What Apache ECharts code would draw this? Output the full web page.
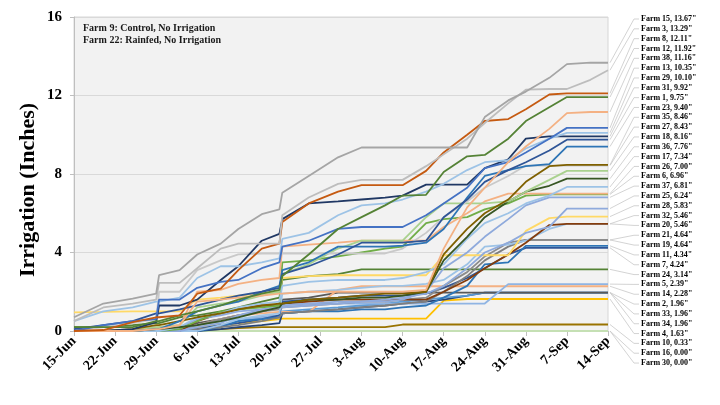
<!DOCTYPE html>
<html><head><meta charset="utf-8">
<script src="https://cdn.jsdelivr.net/npm/echarts@6/dist/echarts.min.js"></script>
<style>html,body{margin:0;padding:0;background:#fff}#c{width:720px;height:405px}</style>
</head><body><div id="c"></div>
<script>
// days after 15-Jun
const days = [0,5,10,14,14.5,18,21,25,28,32,35,35.5,40,45,49,53,56,60,63,67,70,74,77,81,84,88,91];
const tickLabels = ['15-Jun','22-Jun','29-Jun','6-Jul','13-Jul','20-Jul','27-Jul','3-Aug','10-Aug','17-Aug','24-Aug','31-Aug','7-Sep','14-Sep'];
const yTicks = [0,4,8,12,16];

const farmNames = ['Farm 15','Farm 3','Farm 8','Farm 12','Farm 38','Farm 13','Farm 29','Farm 31','Farm 1','Farm 23','Farm 35','Farm 27','Farm 18','Farm 36','Farm 17','Farm 26','Farm 6','Farm 37','Farm 25','Farm 28','Farm 32','Farm 20','Farm 21','Farm 19','Farm 11','Farm 7','Farm 24','Farm 5','Farm 14','Farm 2','Farm 33','Farm 34','Farm 4','Farm 10','Farm 16','Farm 30'];
const totals = [13.67,13.29,12.11,11.92,11.16,10.35,10.10,9.92,9.75,9.40,8.46,8.43,8.16,7.76,7.34,7.00,6.96,6.81,6.24,5.83,5.46,5.46,4.64,4.64,4.34,4.24,3.14,2.39,2.28,1.96,1.96,1.96,1.63,0.33,0.00,0.00];
const notes = ['Farm 9: Control, No Irrigation','Farm 22: Rainfed, No Irrigation'];

const farm15 = [0.7,1.4,1.65,1.9,2.85,3.1,3.9,4.45,5.2,5.95,6.2,7.05,7.9,8.85,9.35,9.35,9.35,9.35,9.35,9.35,10.9,11.75,12.2,12.9,13.6,13.67,13.67];
const farm3  = [0.5,1.2,1.4,1.6,2.45,2.45,3.2,4.2,4.45,4.45,4.45,5.9,6.8,7.5,7.7,7.7,7.7,8.4,9.0,9.8,10.6,11.6,12.3,12.33,12.33,12.8,13.29];
const farm8  = [0,0.05,0.45,0.7,0.7,0.8,1.9,2.16,3.1,4.2,4.45,5.55,6.5,7.1,7.43,7.43,7.43,8.16,9.1,10.0,10.7,10.8,11.3,12.05,12.11,12.11,12.11];
const farm12 = [0.2,0.2,0.2,0.5,0.5,0.8,1.0,1.3,1.6,1.9,2.1,2.8,3.9,5.2,5.8,6.4,6.9,6.94,8.1,8.9,8.97,9.8,10.7,11.4,11.92,11.92,11.92];
const farm38 = [0,0,0,0.1,0.1,0.3,1.5,1.6,1.7,1.8,1.9,1.9,2.0,2.0,2.0,2.0,2.0,2.1,4.2,6.3,7.3,8.6,9.4,10.3,11.1,11.16,11.16];
const farm13 = [0,0.3,0.5,0.6,1.6,1.6,2.2,2.5,2.6,3.2,3.5,4.3,4.6,5.2,5.3,5.3,5.3,5.9,6.5,7.3,8.3,8.6,9.1,9.8,10.35,10.35,10.35];
const farm29 = [0.5,1.0,1.2,1.5,1.5,1.7,2.7,3.3,3.3,3.5,3.7,4.7,5.0,5.9,6.4,6.5,6.7,7.1,7.5,8.2,8.6,8.7,9.3,9.8,10.1,10.1,10.1];
const farm31 = [0,0,0.1,0.45,1.3,1.3,1.6,2.6,3.3,4.6,4.95,5.7,6.5,6.6,6.7,6.8,6.9,7.46,7.46,7.46,8.3,8.75,9.8,9.92,9.92,9.92,9.92];
const farm1  = [0.1,0.3,0.5,0.9,0.9,1.1,1.3,1.6,1.8,2.0,2.2,2.9,3.3,3.9,4.5,4.5,4.5,4.6,5.8,6.7,7.6,8.2,8.6,9.2,9.75,9.75,9.75];
const farm23 = [0,0,0,0.1,0.1,0.5,1.0,1.3,1.5,2.0,2.3,3.1,3.5,4.3,4.3,4.3,4.35,4.5,5.2,6.8,7.9,8.2,8.4,8.5,9.4,9.4,9.4];
const farm35 = [0,0,0.1,0.3,0.3,0.5,0.7,0.9,1.1,1.3,1.4,1.4,1.6,1.7,1.8,1.9,1.9,2.0,3.9,5.2,6.0,6.7,7.6,8.4,8.46,8.46,8.46];
const farm27 = [0,0.2,0.4,0.6,2.0,2.0,3.1,3.6,3.9,3.95,3.95,3.95,3.95,3.95,3.95,3.95,4.2,5.0,5.8,6.6,7.3,7.9,8.43,8.43,8.43,8.43,8.43];
const farm18 = [0,0,0,0.2,0.2,0.3,1.2,1.4,1.5,1.8,2.0,2.9,3.4,4.2,4.6,4.6,4.6,5.8,6.5,6.5,6.5,6.6,7.1,7.7,8.16,8.16,8.16];
const farm36 = [0,0,0,0.1,0.1,0.2,0.3,0.5,0.7,1.0,1.2,1.4,1.6,1.6,1.7,1.7,1.8,2.0,3.6,4.8,5.8,6.6,7.1,7.4,7.76,7.76,7.76];
const farm17 = [0,0,0,0,0,0.2,0.7,0.9,1.2,1.4,1.5,2.3,2.5,2.6,2.6,2.6,2.7,3.0,3.4,4.7,5.5,6.0,6.5,6.9,7.34,7.34,7.34];
const farm26 = [0,0,0,0.2,0.2,0.3,2.0,2.1,2.4,2.6,2.7,4.3,4.4,4.5,4.6,4.6,4.6,4.6,5.3,6.0,6.6,7.0,7.0,7.0,7.0,7.0,7.0];
const farm6  = [0,0,0,0,0,0.1,0.5,1.0,1.1,1.2,1.3,3.5,3.6,3.8,4.0,4.2,4.3,5.5,5.7,5.8,6.2,6.5,6.9,6.96,6.96,6.96,6.96];
const farm37 = [0,0,0,0,0,0,0.2,0.4,0.8,1.1,1.2,1.3,1.4,1.5,1.5,1.5,1.6,2.0,3.2,4.0,4.8,5.7,6.4,6.81,6.81,6.81,6.81];
const farm25 = [0,0,0,0,0,0.2,0.6,0.8,1.0,1.1,1.2,1.2,1.3,1.4,1.5,1.6,1.7,1.9,2.3,3.2,4.0,4.5,5.0,5.3,6.24,6.24,6.24];
const farm28 = [0.95,0.97,1.0,1.0,1.0,1.0,1.6,1.7,1.8,1.9,2.0,2.7,2.8,2.84,2.84,2.84,2.84,2.84,3.86,3.86,3.86,3.86,5.1,5.75,5.83,5.83,5.83];
const farm32 = [0,0,0,0,0,0,0.5,0.9,1.1,1.3,1.3,1.4,1.5,1.6,1.6,1.6,1.6,1.6,2.0,2.6,3.2,3.9,4.5,5.4,5.46,5.46,5.46];
const farm20 = [0,0,0,0,0,0,0,0.3,0.6,0.8,0.9,1.9,2.0,2.1,2.2,2.3,2.3,2.4,2.6,3.4,4.3,4.4,4.6,5.2,5.46,5.46,5.46];
const farm21 = [0,0,0,0,0,0.1,0.3,0.6,0.8,1.0,1.1,1.2,1.3,1.4,1.5,1.5,1.6,1.7,2.3,3.0,3.8,4.5,4.64,4.64,4.64,4.64,4.64];
const farm19 = [0,0,0,0,0,0,0.1,0.2,0.3,0.5,0.7,0.9,1.0,1.1,1.2,1.3,1.4,1.5,2.0,2.8,3.6,4.3,4.64,4.64,4.64,4.64,4.64];
const farm11 = [0,0,0,0,0,0,0,0.2,0.5,0.6,0.7,0.9,1.0,1.0,1.1,1.1,1.2,1.3,1.7,2.3,3.4,3.5,4.34,4.34,4.34,4.34,4.34];
const farm7  = [0,0,0,0,0,0,0.1,0.3,0.4,0.6,0.8,1.5,1.6,1.7,1.8,1.8,1.8,1.9,2.2,2.7,3.2,3.9,4.24,4.24,4.24,4.24,4.24];
const farm24 = [0.2,0.2,0.3,0.4,0.4,0.7,0.8,1.0,1.2,1.5,1.7,2.6,2.8,2.9,3.14,3.14,3.14,3.14,3.14,3.14,3.14,3.14,3.14,3.14,3.14,3.14,3.14];
const farm5  = [0,0,0,0,0,0,0.3,0.5,0.6,0.7,0.8,1.4,1.4,1.4,1.4,1.4,1.4,1.4,1.4,1.4,1.4,2.39,2.39,2.39,2.39,2.39,2.39];
const farm14 = [0,0,0,0.1,0.1,0.1,0.3,0.6,0.8,0.9,0.97,0.97,0.97,2.1,2.28,2.28,2.28,2.28,2.28,2.28,2.28,2.28,2.28,2.28,2.28,2.28,2.28];
const farm2  = [0,0,0,0,0,0.2,0.4,0.6,0.8,1.0,1.2,1.6,1.7,1.96,1.96,1.96,1.96,1.96,1.96,1.96,1.96,1.96,1.96,1.96,1.96,1.96,1.96];
const farm33 = [0,0,0,0,0,0,0.1,0.3,0.5,0.7,0.8,1.0,1.1,1.2,1.3,1.4,1.5,1.6,1.7,1.8,1.96,1.96,1.96,1.96,1.96,1.96,1.96];
const farm34 = [0,0,0,0,0,0,0,0.1,0.2,0.3,0.4,0.9,1.0,1.1,1.2,1.3,1.4,1.5,1.6,1.8,1.96,1.96,1.96,1.96,1.96,1.96,1.96];
const farm4  = [0,0,0,0,0,0.1,0.2,0.3,0.4,0.5,0.6,0.63,0.63,0.63,0.63,0.63,0.63,0.63,1.55,1.63,1.63,1.63,1.63,1.63,1.63,1.63,1.63];
const farm10 = [0,0,0,0,0,0,0.05,0.1,0.15,0.2,0.2,0.2,0.2,0.2,0.2,0.2,0.33,0.33,0.33,0.33,0.33,0.33,0.33,0.33,0.33,0.33,0.33];
const farm16 = [0,0,0,0,0,0,0,0,0,0,0,0,0,0,0,0,0,0,0,0,0,0,0,0,0,0,0];
const farm30 = [0,0,0,0,0,0,0,0,0,0,0,0,0,0,0,0,0,0,0,0,0,0,0,0,0,0,0];

const farmValues = [farm15,farm3,farm8,farm12,farm38,farm13,farm29,farm31,farm1,farm23,farm35,farm27,farm18,farm36,farm17,farm26,farm6,farm37,farm25,farm28,farm32,farm20,farm21,farm19,farm11,farm7,farm24,farm5,farm14,farm2,farm33,farm34,farm4,farm10,farm16,farm30];

// styling (not data)
const farmColors = ['#A5A5A5','#BDBDBD','#C55A11','#548235','#F4B183','#4472C4','#9DC3E6','#203864','#2F5597','#2E75B6','#7F6000','#C9C9C9','#A9D18E','#375623','#9DC3E6','#F4B183','#70AD47','#8FAADC','#8FAADC','#FFD966','#843C0C','#9DC3E6','#8C8C8C','#7F7F7F','#2E75B6','#2F5597','#548235','#8FB4E3','#F4B183','#595959','#5B9BD5','#264478','#FFC000','#997300','#C5E0B4','#A9D18E'];

const FONT = '"Liberation Serif","Times New Roman",serif';
const chart = echarts.init(document.getElementById('c'), null, {renderer:'canvas'});

const series = [];
for (let k = farmNames.length - 1; k >= 0; k--) {
  series.push({
    name: farmNames[k], type: 'line', showSymbol: false, symbol: 'none',
    lineStyle: {width: 1.8, color: farmColors[k]}, itemStyle: {color: farmColors[k]},
    data: days.map((d, i) => [d, farmValues[k][i]]),
    animation: false, silent: true
  });
}

chart.setOption({
  animation: false,
  backgroundColor: '#ffffff',
  grid: {left: 74, right: 112, top: 17, bottom: 74, show: true, backgroundColor: '#F2F2F2', borderColor: '#D6D6D6', borderWidth: 1},
  xAxis: {
    type: 'value', min: 0, max: 91, interval: 7,
    axisLine: {show: true, lineStyle: {color: '#BFBFBF', width: 1}},
    axisTick: {show: true, length: 5, lineStyle: {color: '#BFBFBF'}},
    splitLine: {show: false},
    axisLabel: {rotate: 45, margin: 8, color: '#000', fontFamily: FONT, fontWeight: 'bold', fontSize: 14,
      formatter: v => { const i = Math.round(v / 7); return (Math.abs(v - i*7) < 1e-6 && tickLabels[i]) ? tickLabels[i] : ''; }}
  },
  yAxis: {
    type: 'value', min: yTicks[0], max: yTicks[yTicks.length-1], interval: 4,
    axisLine: {show: true, lineStyle: {color: '#BFBFBF', width: 1}},
    axisTick: {show: true, length: 4, lineStyle: {color: '#BFBFBF'}},
    splitLine: {show: true, lineStyle: {color: '#D9D9D9', width: 1}},
    axisLabel: {margin: 12, color: '#000', fontFamily: FONT, fontWeight: 'bold', fontSize: 15}
  },
  series: series
});

// right-side labels with leader lines
const graphics = [];
const labelTop = 19, labelStep = 9.83;
farmNames.forEach((n, i) => {
  const yl = labelTop + i * labelStep;
  const p = chart.convertToPixel({gridIndex: 0}, [91, totals[i]]);
  graphics.push({type: 'polyline', silent: true, z: 1,
    shape: {points: [[p[0] + 2, p[1]], [634, yl], [639, yl]]},
    style: {stroke: '#C8C8C8', lineWidth: 0.8, fill: null}});
  graphics.push({type: 'text', silent: true, z: 2, x: 641, y: yl,
    style: {text: n + ', ' + totals[i].toFixed(2) + '"', fill: '#000', font: 'bold 8px ' + FONT, verticalAlign: 'middle', align: 'left'}});
});
notes.forEach((t, i) => {
  graphics.push({type: 'text', silent: true, z: 5, x: 83, y: 28 + i * 12,
    style: {text: t, fill: '#1a1a1a', font: 'bold 10px ' + FONT, verticalAlign: 'middle', align: 'left'}});
});
graphics.push({type: 'text', silent: true, x: 28, y: 190, rotation: Math.PI / 2,
  style: {text: 'Irrigation (Inches)', fill: '#000', font: 'bold 22px ' + FONT, align: 'center', verticalAlign: 'middle'}});
chart.setOption({graphic: graphics});
</script></body></html>
